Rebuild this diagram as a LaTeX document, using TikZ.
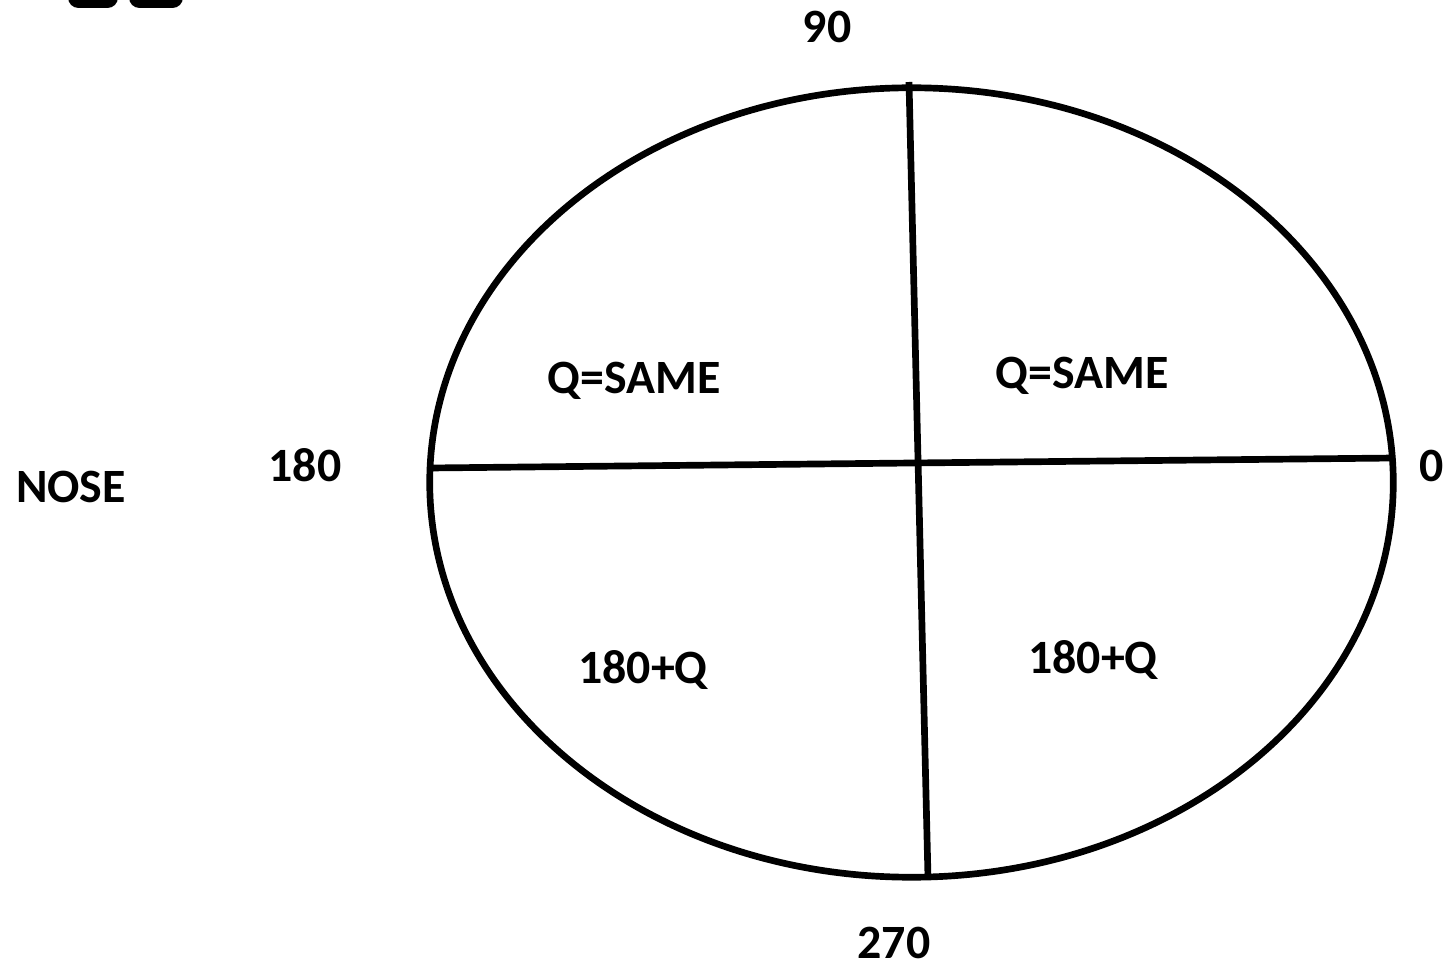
\documentclass[tikz,border=0pt]{standalone}
\usepackage{fontspec}
\setmainfont{Carlito}
\usepackage{xcolor}
\usetikzlibrary{positioning,calc,shapes.geometric}
\definecolor{ink}{HTML}{000000}

\begin{document}
\begin{tikzpicture}[x=0.01cm,y=-0.01cm,every node/.style={font=\fontsize{13.6}{15}\selectfont\bfseries,text=ink,inner sep=1pt},
  rim/.style={draw=ink,line width=1.9pt,ellipse,minimum width=9.63cm,minimum height=7.89cm,inner sep=0pt},
  ax/.style={draw=ink,line width=1.9pt},
  blk/.style={fill=ink,rounded corners=3pt}]
  \clip (0,0) rectangle (1445,967);
  \fill[white] (0,0) rectangle (1445,967);
  % cut-off marks at the top
  \fill[blk] (68,-20) rectangle (118,8);
  \fill[blk] (129,-20) rectangle (183,8);
  % rotor disc
  \node[rim] (disc) at (911.5,482.5) {};
  \coordinate (w) at (430,468);
  \coordinate (e) at (1395,458);
  \coordinate (n) at (909,82);
  \coordinate (s) at (928,878);
  \draw[ax] (w)--(e); \draw[ax] (n)--(s);
  \node (a90)  at (827,27)  {90};
  \node (a180) at (305,465) {180};
  \node (a0)   at (1432,466) {0};
  \node (a270) at (894,943) {270};
  \node (nose) at (71,487)  {NOSE};
  \node (q2) at (634,381) {Q=SAME};
  \node (q1) at (1082,376) {Q=SAME};
  \node (q3) at (643,670) {180+Q};
  \node (q4) at (1093,660) {180+Q};
\end{tikzpicture}
\end{document}
